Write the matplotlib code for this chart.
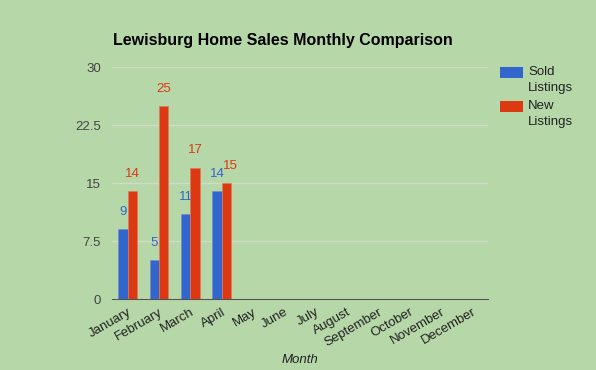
import numpy as np
import matplotlib.pyplot as plt
from matplotlib.patches import Rectangle

plt.rcParams['font.family'] = ['Liberation Sans', 'DejaVu Sans']

months = ["January", "February", "March", "April", "May", "June", "July",
          "August", "September", "October", "November", "December"]
sold = [9, 5, 11, 14]
new = [14, 25, 17, 15]
series_names = ["Sold\nListings", "New\nListings"]
colors = ["#3366cc", "#dc3912"]
yticks = [0, 7.5, 15, 22.5, 30]
ytick_labels = ["0", "7.5", "15", "22.5", "30"]

bg = "#b6d7a8"
W, H = 596, 370
fig = plt.figure(figsize=(W / 100, H / 100), dpi=100, facecolor=bg)
ax = fig.add_axes([112 / W, 1 - 299 / H, 376 / W, 232 / H], facecolor=bg)

x = np.arange(len(months))
bw = 0.3
xs = x[:len(sold)]
ax.bar(xs - bw / 2, sold, bw, color=colors[0], edgecolor="#6f8fd0", linewidth=0.5, zorder=3)
ax.bar(xs + bw / 2, new, bw, color=colors[1], edgecolor="#e07a5a", linewidth=0.5, zorder=3)

for xi, v in zip(xs, sold):
    ax.annotate(str(v), (xi - bw / 2, v), xytext=(0, 8), textcoords="offset points",
                ha="center", va="bottom", color=colors[0], fontsize=9.5)
for i, (xi, v) in enumerate(zip(xs, new)):
    dx = 3 if i == len(new) - 1 else 0
    ax.annotate(str(v), (xi + bw / 2, v), xytext=(dx, 8), textcoords="offset points",
                ha="center", va="bottom", color=colors[1], fontsize=9.5)

ax.set_xlim(-0.5, len(months) - 0.5)
ax.set_ylim(0, 30)
ax.set_yticks(yticks)
ax.set_yticklabels(ytick_labels, color="#444444", fontsize=9.5)
ax.set_xticks(x)
ax.set_xticklabels(months, rotation=30, ha="right", rotation_mode="anchor",
                   color="#222222", fontsize=9.5)
ax.tick_params(length=0, pad=8)
ax.tick_params(axis="x", pad=5)
for yv in yticks[1:]:
    ax.axhline(yv, color="#d0dcc8", linewidth=1, zorder=1)
for s in ["top", "right", "left"]:
    ax.spines[s].set_visible(False)
ax.spines["bottom"].set_color("#555555")
ax.spines["bottom"].set_zorder(4)

ax.set_xlabel("Month", style="italic", color="#222222", fontsize=9.5, labelpad=4)
fig.text(283 / W, 1 - 41 / H, "Lewisburg Home Sales Monthly Comparison",
         ha="center", va="center", fontsize=11.5, fontweight="bold", color="#000000")

# legend
for i, (name, c) in enumerate(zip(series_names, colors)):
    y0 = 67 + i * 34
    fig.add_artist(Rectangle((500 / W, 1 - (y0 + 11) / H), 23 / W, 11 / H,
                             transform=fig.transFigure, facecolor=c, edgecolor="none"))
    fig.text(528 / W, 1 - (y0 - 1) / H, name, ha="left", va="top",
             fontsize=9.5, color="#222222", linespacing=1.45)

fig.savefig("out.png", dpi=100, facecolor=bg)
